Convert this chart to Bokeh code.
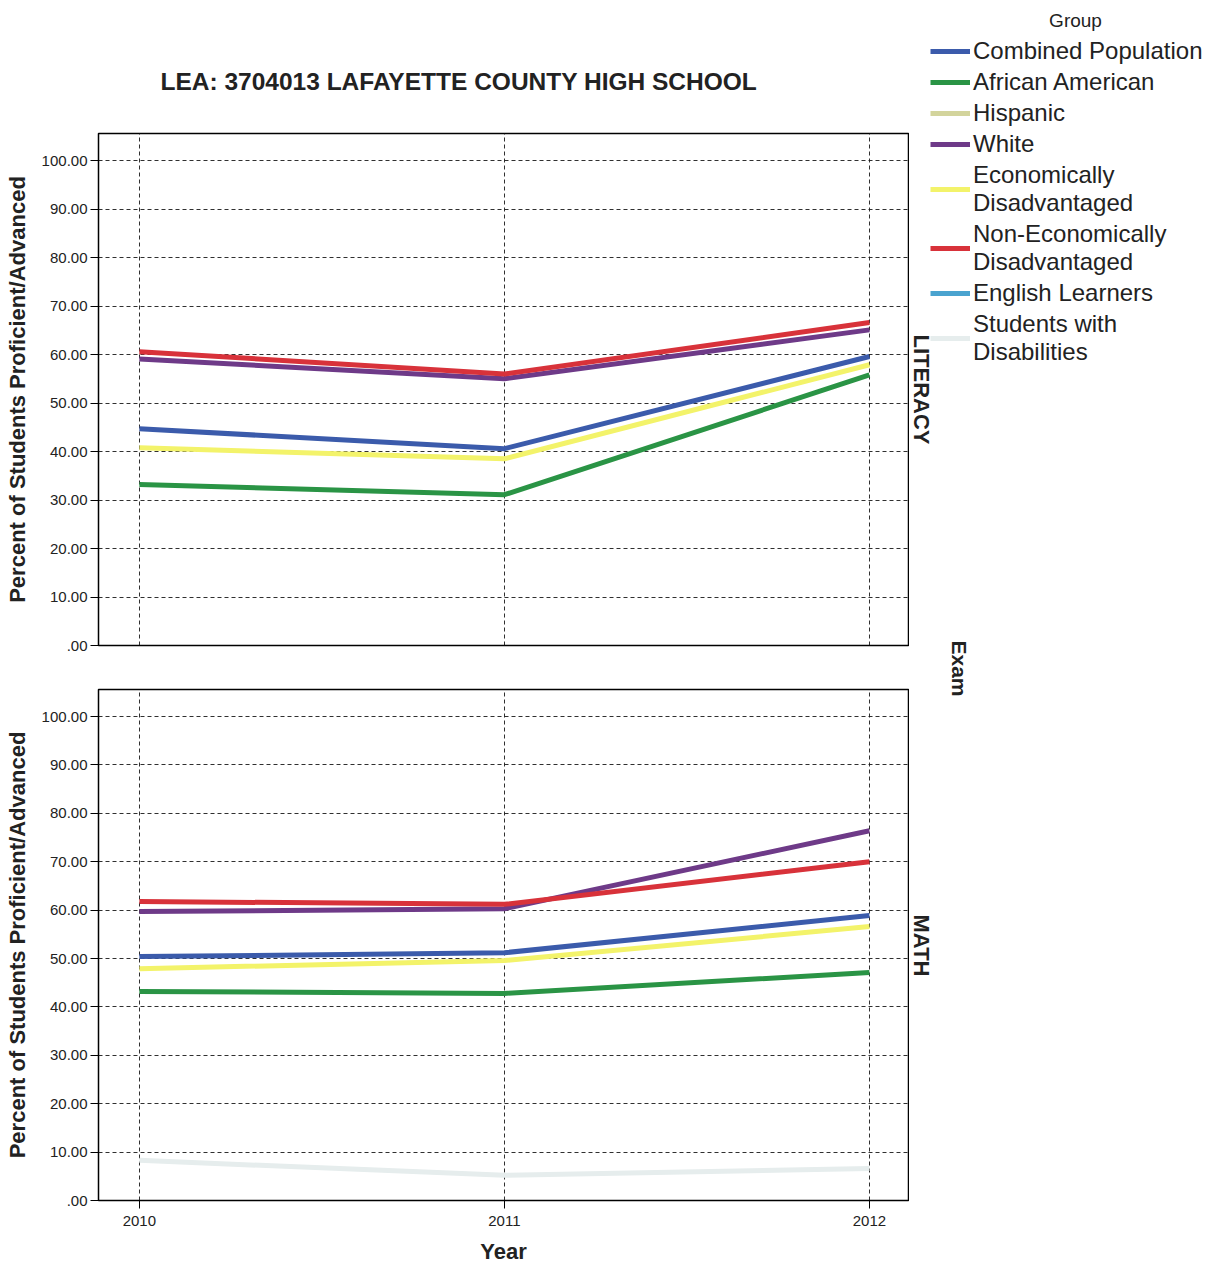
import math
from bokeh.plotting import figure
from bokeh.models import Range1d, FixedTicker, Legend, LegendItem, Label, Title
from bokeh.layouts import row, column
from bokeh.embed import file_html
from bokeh.resources import INLINE

# ---------------- data ----------------
years = [2010, 2011, 2012]
year_labels = ["2010", "2011", "2012"]

groups = ["Combined Population", "African American", "Hispanic", "White",
          "Economically\nDisadvantaged", "Non-Economically\nDisadvantaged",
          "English Learners", "Students with\nDisabilities"]
colors = ["#3b5bab", "#2a9445", "#d3d49c", "#6e3a88",
          "#f3f36a", "#d8323a", "#4aa3cf", "#e6eded"]

# Literacy (percent proficient/advanced)
lit_combined = [44.7, 40.6, 59.6]
lit_african = [33.2, 31.1, 55.8]
lit_hispanic = []
lit_white = [59.1, 55.0, 65.1]
lit_econ = [40.8, 38.5, 57.9]
lit_nonecon = [60.6, 56.0, 66.6]
lit_english = []
lit_swd = []

# Math
math_combined = [50.4, 51.2, 58.9]
math_african = [43.2, 42.8, 47.1]
math_hispanic = []
math_white = [59.7, 60.3, 76.4]
math_econ = [47.9, 49.6, 56.6]
math_nonecon = [61.8, 61.2, 70.0]
math_english = []
math_swd = [8.3, 5.2, 6.6]

y_ticks = [0, 10, 20, 30, 40, 50, 60, 70, 80, 90, 100]
y_tick_labels = [".00", "10.00", "20.00", "30.00", "40.00", "50.00",
                 "60.00", "70.00", "80.00", "90.00", "100.00"]

lit_series = [lit_combined, lit_african, lit_hispanic, lit_white,
              lit_econ, lit_nonecon, lit_english, lit_swd]
math_series = [math_combined, math_african, math_hispanic, math_white,
               math_econ, math_nonecon, math_english, math_swd]

FONT = "Liberation Sans"
TXT = "#222222"
NAN = float("nan")


def style_panel(p):
    p.outline_line_color = "black"
    p.outline_line_width = 1.5
    p.outline_line_alpha = 1.0
    p.xgrid.ticker = FixedTicker(ticks=years)
    p.ygrid.ticker = FixedTicker(ticks=y_ticks)
    for g in (p.xgrid, p.ygrid):
        g.grid_line_color = "#1a1a1a"
        g.grid_line_dash = "4 3"
        g.grid_line_width = 1
        g.grid_line_alpha = 0.9
    ax = p.yaxis[0]
    ax.ticker = FixedTicker(ticks=y_ticks)
    ax.major_label_overrides = {t: l for t, l in zip(y_ticks, y_tick_labels)}
    ax.axis_label = "Percent of Students Proficient/Advanced"
    ax.axis_label_text_font = FONT
    ax.axis_label_text_font_style = "bold"
    ax.axis_label_text_font_size = "22px"
    ax.axis_label_text_color = TXT
    ax.axis_label_standoff = 9
    ax.major_label_text_font = FONT
    ax.major_label_text_font_size = "15px"
    ax.major_label_text_color = TXT
    ax.major_label_standoff = 3
    ax.major_tick_out = 8
    ax.major_tick_in = 0
    ax.minor_tick_out = 0
    ax.minor_tick_in = 0
    ax.axis_line_color = "black"
    ax.major_tick_line_color = "black"


def draw_series(p, series):
    for vals, col in zip(series, colors):
        if len(vals) == 0:
            continue
        p.line(years[:len(vals)], vals, line_color=col, line_width=5,
               line_join="round")


X_RANGE = (2009.888, 2012.107)
LEFT_W = 909
TOTAL_H = 1268
TOP_H = 667

# ---------------- top panel (LITERACY) ----------------
top = figure(width=LEFT_W, height=TOP_H,
             x_range=Range1d(*X_RANGE), y_range=Range1d(0, 105.6),
             x_axis_location=None, toolbar_location=None,
             output_backend="svg",
             min_border_left=98, min_border_right=1,
             min_border_top=133, min_border_bottom=22)
top.title = Title(text="LEA: 3704013 LAFAYETTE COUNTY HIGH SCHOOL",
                  align="left", offset=62, standoff=77,
                  text_font=FONT, text_font_style="bold",
                  text_font_size="24.5px", text_color=TXT)
style_panel(top)
draw_series(top, lit_series)

# ---------------- bottom panel (MATH) ----------------
bot = figure(width=LEFT_W, height=TOTAL_H - TOP_H,
             x_range=Range1d(*X_RANGE), y_range=Range1d(0, 105.6),
             toolbar_location=None, output_backend="svg",
             min_border_left=98, min_border_right=1,
             min_border_top=22, min_border_bottom=68)
style_panel(bot)
xa = bot.xaxis[0]
xa.ticker = FixedTicker(ticks=years)
xa.major_label_overrides = {y: l for y, l in zip(years, year_labels)}
xa.axis_label = "Year"
xa.axis_label_text_font = FONT
xa.axis_label_text_font_style = "bold"
xa.axis_label_text_font_size = "22px"
xa.axis_label_text_color = TXT
xa.axis_label_standoff = 10
xa.major_label_text_font = FONT
xa.major_label_text_font_size = "15px"
xa.major_label_text_color = TXT
xa.major_label_standoff = 7
xa.major_tick_out = 8
xa.major_tick_in = 0
xa.minor_tick_out = 0
xa.minor_tick_in = 0
xa.axis_line_color = "black"
draw_series(bot, math_series)

# ---------------- right side: legend & facet labels ----------------
SIDE_W = 1211 - LEFT_W - 1
side = figure(width=SIDE_W, height=TOTAL_H,
              x_range=Range1d(0, SIDE_W), y_range=Range1d(TOTAL_H, 0),
              x_axis_location=None, y_axis_location=None,
              toolbar_location=None, output_backend="svg",
              min_border=0)
side.outline_line_color = None
side.xgrid.visible = False
side.ygrid.visible = False

items = []
for name, col in zip(groups, colors):
    r = side.line([NAN, NAN], [NAN, NAN], line_color=col, line_width=5)
    items.append(LegendItem(label=name, renderers=[r]))

legend = Legend(items=items, location=(21, TOTAL_H - 366),
                border_line_color=None, background_fill_alpha=0,
                padding=0, margin=0, spacing=3,
                glyph_width=40, glyph_height=24, label_height=24,
                label_standoff=3,
                label_text_font=FONT, label_text_font_size="24px",
                label_text_color=TXT)
side.add_layout(legend)

side.add_layout(Label(x=166, y=20, text="Group", text_font=FONT,
                      text_font_size="19px", text_color=TXT,
                      text_align="center", text_baseline="middle"))
for txt, (lx, ly) in [("LITERACY", (12, 389)), ("MATH", (12, 945))]:
    side.add_layout(Label(x=lx, y=ly, text=txt, angle=-math.pi / 2,
                          text_font=FONT, text_font_style="bold",
                          text_font_size="22px", text_color=TXT,
                          text_align="center", text_baseline="middle"))
side.add_layout(Label(x=50, y=668, text="Exam", angle=-math.pi / 2,
                      text_font=FONT, text_font_style="bold",
                      text_font_size="21px", text_color=TXT,
                      text_align="center", text_baseline="middle"))

layout = row(column(top, bot), side)

open("out.html", "w").write(file_html(layout, INLINE))
